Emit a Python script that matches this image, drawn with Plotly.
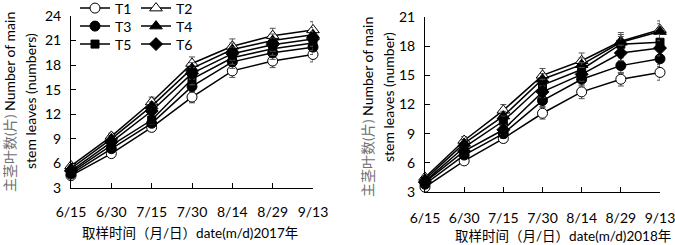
import plotly.graph_objects as go

W, H = 675, 245

dates = ["6/15", "6/30", "7/15", "7/30", "8/14", "8/29", "9/13"]
names = ["T1", "T2", "T3", "T4", "T5", "T6"]

# 2017 values (main stem leaf number)
y17_T1 = [4.5, 7.2, 10.4, 14.1, 17.3, 18.5, 19.3]
y17_T2 = [5.7, 9.3, 13.5, 18.2, 20.3, 21.6, 22.3]
y17_T3 = [4.7, 7.8, 10.9, 15.4, 18.4, 19.5, 20.2]
y17_T4 = [5.4, 9.0, 13.0, 17.6, 19.9, 21.0, 21.7]
y17_T5 = [4.9, 8.2, 11.3, 16.3, 18.9, 20.0, 20.7]
y17_T6 = [5.1, 8.6, 12.4, 17.0, 19.4, 20.5, 21.2]
e17_T1 = [0.3, 0.4, 0.5, 0.7, 0.8, 0.8, 0.9]
e17_T2 = [0.3, 0.4, 0.6, 0.8, 0.9, 0.9, 1.0]
e17_other = [0.3, 0.4, 0.5, 0.7, 0.8, 0.8, 0.9]

# 2018 values
y18_T1 = [3.5, 6.2, 8.5, 11.1, 13.3, 14.6, 15.3]
y18_T2 = [4.5, 8.3, 11.4, 15.0, 16.5, 18.5, 19.7]
y18_T3 = [3.8, 6.8, 9.0, 12.4, 14.6, 16.0, 16.7]
y18_T4 = [4.3, 8.0, 10.8, 14.6, 16.1, 18.4, 19.5]
y18_T5 = [4.1, 7.6, 10.3, 14.0, 15.6, 18.2, 18.4]
y18_T6 = [4.0, 7.2, 9.4, 13.3, 15.1, 17.3, 17.8]
e18_T1 = [0.3, 0.3, 0.4, 0.6, 0.7, 0.7, 0.8]
e18_T2 = [0.3, 0.4, 0.6, 0.7, 0.8, 0.9, 0.9]
e18_other = [0.3, 0.4, 0.5, 0.6, 0.7, 0.8, 0.8]

y17 = [y17_T1, y17_T2, y17_T3, y17_T4, y17_T5, y17_T6]
e17 = [e17_T1, e17_T2, e17_other, e17_other, e17_other, e17_other]
y18 = [y18_T1, y18_T2, y18_T3, y18_T4, y18_T5, y18_T6]
e18 = [e18_T1, e18_T2, e18_other, e18_other, e18_other, e18_other]

symbols = ["circle", "triangle-up", "circle", "triangle-up", "square", "diamond"]
fills = ["white", "white", "black", "black", "black", "black"]
sizes = [10, 11, 10, 11, 8, 10]

FONT = "Lato, 'Noto Sans CJK SC', sans-serif"

fig = go.Figure()

legend_pos = [(75, 8.5), (136, 8.5), (75, 26.5), (136, 26.5), (75, 44.5), (136, 44.5)]

for i, nm in enumerate(names):
    lg = "legend" if i == 0 else f"legend{i+1}"
    fig.add_trace(go.Scatter(
        x=list(range(len(dates))), y=y17[i], name=nm, mode="lines+markers",
        line=dict(color="black", width=1.5),
        marker=dict(symbol=symbols[i], color=fills[i], size=sizes[i],
                    line=dict(color="black", width=1)),
        error_y=dict(type="data", array=e17[i], color="#555555", thickness=1, width=3),
        xaxis="x", yaxis="y", legend=lg, cliponaxis=False,
    ))
for i, nm in enumerate(names):
    fig.add_trace(go.Scatter(
        x=list(range(len(dates))), y=y18[i], name=nm, mode="lines+markers",
        line=dict(color="black", width=1.5),
        marker=dict(symbol=symbols[i], color=fills[i], size=sizes[i],
                    line=dict(color="black", width=1)),
        error_y=dict(type="data", array=e18[i], color="#555555", thickness=1, width=3),
        xaxis="x2", yaxis="y2", showlegend=False, cliponaxis=False,
    ))

axis_common = dict(showgrid=False, zeroline=False, showline=True, linecolor="black",
                   linewidth=1, ticks="inside", tickcolor="black", ticklen=5,
                   ticklabeloverflow="allow",
                   tickfont=dict(family=FONT, size=14, color="black"))

layout = dict(
    width=W, height=H, margin=dict(l=0, r=0, t=0, b=0, autoexpand=False),
    paper_bgcolor="white", plot_bgcolor="white",
    font=dict(family=FONT, size=13, color="black"),
    xaxis=dict(domain=[71 / W, 313 / W], range=[0, 6], tickvals=list(range(7)),
               ticktext=dates, anchor="y", ticklabelstandoff=11, automargin=False, **axis_common),
    yaxis=dict(domain=[57 / H, 229 / H], range=[3, 24], tickvals=[3, 6, 9, 12, 15, 18, 21, 24],
               anchor="x", ticklabelstandoff=6, automargin=False, **axis_common),
    xaxis2=dict(domain=[425 / W, 660 / W], range=[0, 6], tickvals=list(range(7)),
                ticktext=dates, anchor="y2", ticklabelstandoff=13, automargin=False, **axis_common),
    yaxis2=dict(domain=[53 / H, 228 / H], range=[3, 21], tickvals=[3, 6, 9, 12, 15, 18, 21],
                anchor="x2", ticklabelstandoff=6, automargin=False, **axis_common),
)

for i in range(6):
    key = "legend" if i == 0 else f"legend{i+1}"
    px, py = legend_pos[i]
    layout[key] = dict(x=px / W, y=1 - py / H, xanchor="left", yanchor="middle",
                       xref="paper", yref="paper", orientation="h",
                       bgcolor="rgba(0,0,0,0)", borderwidth=0,
                       font=dict(family=FONT, size=14, color="black"),
                       itemsizing="trace", tracegroupgap=0)

fig.update_layout(**layout)

gray_cn = "<span style='color:#707070'>主茎叶数(片)</span>"
annots = [
    dict(text=gray_cn + " Number of main", x=9 / W, y=1 - 102 / H),
    dict(text="stem leaves (numbers)", x=30 / W, y=1 - 101 / H),
    dict(text=gray_cn + " Number of main", x=367 / W, y=1 - 107 / H),
    dict(text="stem leaves (number)", x=388 / W, y=1 - 97 / H),
]
for a in annots:
    fig.add_annotation(text=a["text"], x=a["x"], y=a["y"], xref="paper", yref="paper",
                       textangle=-90, showarrow=False, xanchor="center", yanchor="middle",
                       font=dict(family=FONT, size=14, color="black"))

fig.add_annotation(text="取样时间（月/日）date(m/d)2017年", x=190 / W, y=1 - 233 / H,
                   xref="paper", yref="paper", showarrow=False, xanchor="center",
                   yanchor="middle", font=dict(family=FONT, size=13.5, color="black"))
fig.add_annotation(text="取样时间（月/日）date(m/d)2018年", x=563 / W, y=1 - 236 / H,
                   xref="paper", yref="paper", showarrow=False, xanchor="center",
                   yanchor="middle", font=dict(family=FONT, size=13.5, color="black"))

fig.write_html(
    "out.html",
    config={"displayModeBar": False},
    post_script="document.body.style.margin='0px';document.body.style.overflow='hidden';",
)
